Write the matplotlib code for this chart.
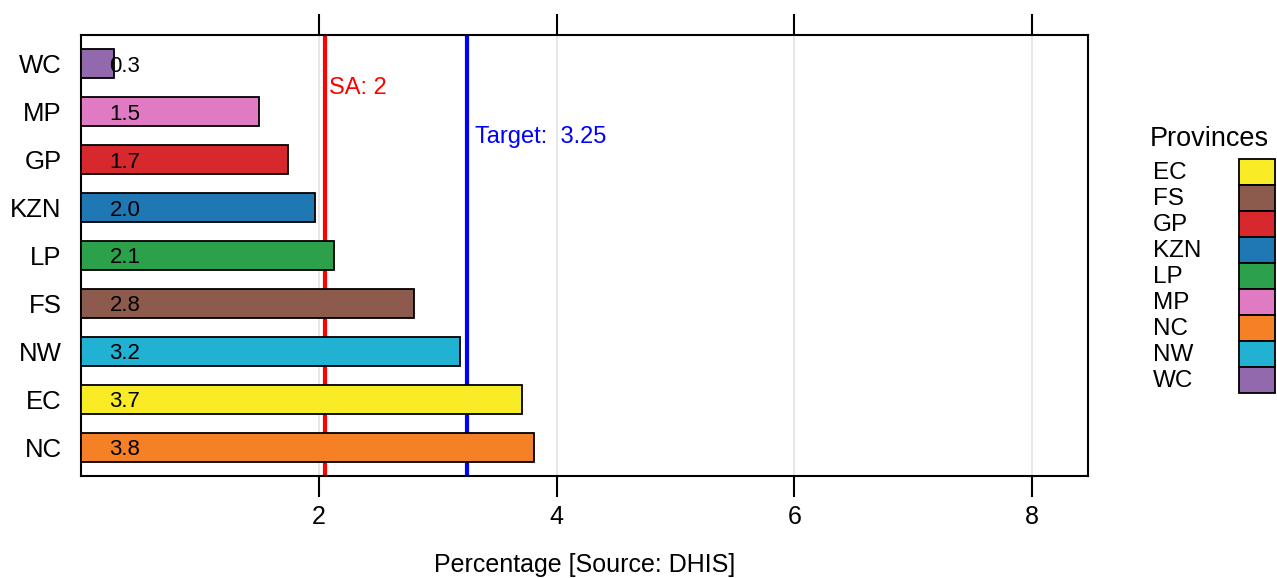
#!/usr/bin/env python3

import numpy as np
import matplotlib
matplotlib.use('Agg')
import matplotlib.pyplot as plt
from matplotlib.patches import Rectangle

plt.rcParams['font.family'] = ['Liberation Sans', 'DejaVu Sans']

# provinces, bottom row first
provinces = ['NC', 'EC', 'NW', 'FS', 'LP', 'KZN', 'GP', 'MP', 'WC']
values = [3.81, 3.71, 3.19, 2.80, 2.13, 1.97, 1.74, 1.50, 0.28]

legend_order = ['EC', 'FS', 'GP', 'KZN', 'LP', 'MP', 'NC', 'NW', 'WC']
province_colors = {
    'EC': '#f9eb26', 'FS': '#8c5b4e', 'GP': '#d6282d', 'KZN': '#1f77b4',
    'LP': '#2ca04a', 'MP': '#e07ac2', 'NC': '#f58025', 'NW': '#20b1d3',
    'WC': '#9269ad',
}

sa_value = 2.05
sa_label = 'SA: 2'
target_value = 3.25
target_label = 'Target:  3.25'

xticks = [2, 4, 6, 8]

W, H = 1277, 578
fig = plt.figure(figsize=(W / 100, H / 100), dpi=100)

def px_box(x0, y0, x1, y1):
    return [x0 / W, 1 - y1 / H, (x1 - x0) / W, (y1 - y0) / H]

ax = fig.add_axes(px_box(81, 35, 1088, 476))
ypos = np.arange(len(provinces))
colors = [province_colors[p] for p in provinces]

ax.barh(ypos, values, height=0.6, color=colors, edgecolor='black',
        linewidth=1.3, zorder=3)
for y, v in zip(ypos, values):
    ax.text(0.24, y, f'{v:.1f}', ha='left', va='center_baseline',
            fontsize=16, zorder=4)

ax.axvline(sa_value, color='red', lw=3, zorder=2)
ax.axvline(target_value, color='blue', lw=3, zorder=2)
ax.text(sa_value + 0.04, 7.5, sa_label, color='red', fontsize=17,
        ha='left', va='center')
ax.text(target_value + 0.06, 6.48, target_label, color='blue', fontsize=17,
        ha='left', va='center')

ax.set_xlim(0, 8.47)
ax.set_ylim(-0.6, 8.6)
ax.set_yticks(ypos)
ax.set_yticklabels(provinces, fontsize=18.5)
ax.set_xticks(xticks)
ax.set_xticklabels([str(t) for t in xticks], fontsize=18)
ax.tick_params(axis='y', length=0, pad=14)
ax.tick_params(axis='x', top=True, bottom=True, direction='out', length=15,
               width=1.5, pad=6)
ax.grid(axis='x', color='#e4e4e4', lw=1.2, zorder=0)
for s in ax.spines.values():
    s.set_linewidth(1.5)
ax.set_xlabel('Percentage [Source: DHIS]', fontsize=18, labelpad=17)

# legend drawn by hand so labels sit left, boxes right
lax = fig.add_axes(px_box(1150, 159, 1277, 393))
lax.set_xlim(0, 1)
lax.set_ylim(len(legend_order), 0)
lax.axis('off')
for i, p in enumerate(legend_order):
    lax.add_patch(Rectangle((0.70, i), 0.285, 1, facecolor=province_colors[p],
                            edgecolor='black', lw=1.3, clip_on=False))
    lax.text(0.02, i + 0.55, p, ha='left', va='center', fontsize=17.5)
lax.text(0.0, -0.78, 'Provinces', ha='left', va='center', fontsize=19.5)

fig.savefig('out.png', dpi=100)
